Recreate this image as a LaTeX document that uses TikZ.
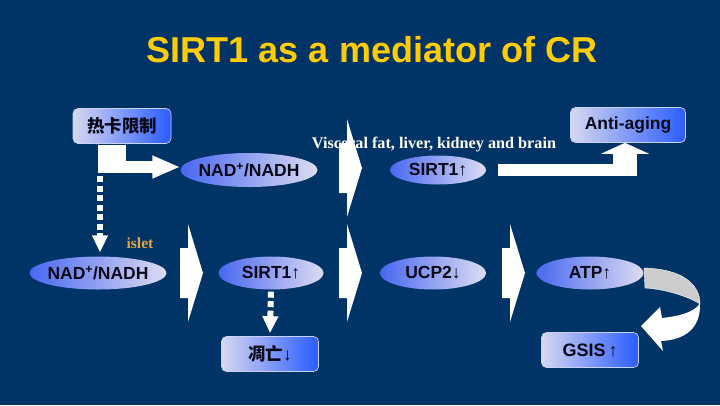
\documentclass[tikz,border=0pt]{standalone}
\usepackage{fontspec}
\setmainfont{Liberation Sans}
\newfontfamily\inkfont[Color=080818]{Liberation Sans}
\newfontfamily\cjk[Color=080818]{Noto Sans CJK SC}
\newfontfamily\tnr{Liberation Serif}
\usetikzlibrary{shapes.geometric, arrows.meta}
\definecolor{slidebg}{RGB}{0,51,102}
\definecolor{titleyellow}{RGB}{255,204,0}
\definecolor{isletorange}{RGB}{232,162,62}
\definecolor{ovalblue}{RGB}{72,104,240}
\definecolor{ovallight}{RGB}{220,220,242}
\definecolor{panelblue}{RGB}{42,92,255}
\definecolor{panellight}{RGB}{214,216,240}
\definecolor{panelline}{RGB}{200,210,250}
\definecolor{bandgray}{RGB}{204,204,204}
\definecolor{inktext}{RGB}{8,8,24}
\tikzstyle{lbl} = [text=inktext, inner sep=0pt, font=\inkfont\bfseries\fontsize{17.5}{20}\selectfont]
\tikzstyle{oval} = [ellipse, inner sep=0pt, left color=ovalblue, right color=ovallight]
\tikzstyle{panel} = [rectangle, rounded corners=5pt, draw=panelline, line width=0.7pt, left color=panellight, right color=panelblue, minimum width=98pt, minimum height=35pt, inner sep=0pt]
\tikzstyle{blockarrow} = [white, line width=12pt]
\tikzstyle{dasharrow} = [white, line width=6pt, dash pattern=on 6pt off 3.5pt, -{Triangle[length=17pt,width=15pt]}]
\newcommand{\chevron}[2]{\fill[white] (#1,#2-25) -- (#1+8,#2-25) -- (#1+8,#2-49) -- (#1+23,#2) -- (#1+8,#2+49) -- (#1+8,#2+25) -- (#1,#2+25) -- cycle;}

\begin{document}
\begin{tikzpicture}[x=1pt, y=-1pt]
    \fill[slidebg] (0,0) rectangle (720,405);
    \useasboundingbox (0,0) rectangle (720,405);

    \node[text=titleyellow, font=\bfseries\fontsize{36}{40}\selectfont] (title) at (372,50) {SIRT1 as a mediator of CR};

    % top row
    \node[panel, label={[lbl]center:\cjk 热卡限制}] (cr) at (122,126) {};
    \node[panel, minimum width=115pt, label={[lbl]center:Anti-aging}] (anti) at (628,125) {};
    \node[oval, minimum width=137pt, minimum height=34pt, label={[lbl]center:NAD\textsuperscript{+}/NADH}] (nad1) at (249,170) {};
    \node[oval, minimum width=96pt, minimum height=29pt, label={[lbl]center:SIRT1↑}] (sirt1) at (438,170) {};
    \node[text=white, font=\tnr\bfseries\fontsize{16.2}{18}\selectfont] (organs) at (434,145) {Visceral fat, liver, kidney and brain};

    % islet row
    \node[text=isletorange, font=\tnr\bfseries\fontsize{15.5}{17}\selectfont] (islet) at (140,243) {islet};
    \node[oval, minimum width=137pt, minimum height=33pt, label={[lbl]center:NAD\textsuperscript{+}/NADH}] (nad2) at (98,273) {};
    \node[oval, minimum width=105pt, minimum height=33pt, label={[lbl]center:SIRT1↑}] (sirt2) at (271,273) {};
    \node[oval, minimum width=106pt, minimum height=33pt, label={[lbl]center:UCP2↓}] (ucp) at (433,273) {};
    \node[oval, minimum width=107pt, minimum height=33pt, label={[lbl]center:ATP↑}] (atp) at (590,273) {};
    \node[panel, minimum width=97pt, label={[lbl]center:{\cjk 凋亡}↓}] (dt) at (270,354) {};
    \node[panel, minimum width=97pt, label={[lbl, font=\inkfont\bfseries\fontsize{18}{20}\selectfont]center:GSIS\,↑}] (gsis) at (590,350) {};

    % big arrows
    \foreach \cx/\cy in {339/168, 180/273, 339/273, 502/273}
        {\chevron{\cx}{\cy}}

    % CR to NAD, elbow
    \fill[white] (98,145) rectangle (126,173);
    \draw[blockarrow, -{Triangle[length=28pt,width=21pt]}] (120,167) -- (nad1.west |- 0,167);
    \coordinate (d1) at (100,176);
    \draw[dasharrow, shorten >=4pt] (d1) -- (d1 |- nad2.north);

    % SIRT1 to anti-aging, elbow
    \coordinate (aa) at (625,176);
    \draw[blockarrow] ([xshift=12pt]sirt1.east) -- (637,170);
    \draw[white, line width=24pt, -{Triangle[length=11pt,width=48pt]}] (aa) -- (aa |- anti.south);

    % SIRT1 to apoptosis
    \draw[dasharrow] ([yshift=-2pt]sirt2.south) -- ([yshift=3pt]dt.north);

    % ATP to GSIS, curved
    \fill[bandgray, draw=white, line width=0.4pt] (644,268) .. controls (682,269) and (700,284) .. (700,304) .. controls (690,297) and (665,289) .. (645,288) -- cycle;
    \fill[white] (700,303) .. controls (701,330) and (683,340) .. (661,341) -- (663,351) -- (641,326) -- (660,307) -- (662,318) .. controls (680,316) and (695,312) .. (700,303) -- cycle;
\end{tikzpicture}
\end{document}
